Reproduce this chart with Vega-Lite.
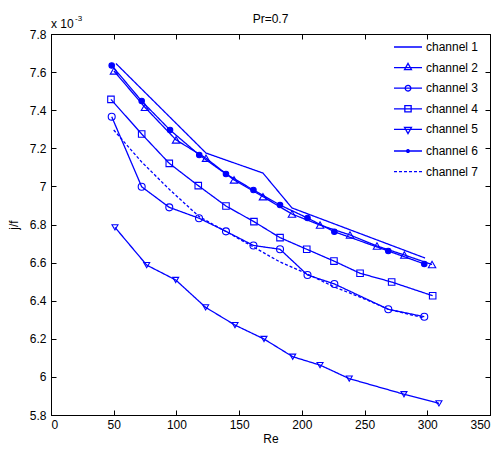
{
  "$schema": "https://vega.github.io/schema/vega-lite/v6.json",
  "autosize": "none",
  "width": 439,
  "height": 381,
  "padding": {"left": 51, "top": 34, "right": 12, "bottom": 35},
  "background": "white",
  "title": {"text": "Pr=0.7", "fontSize": 12, "fontWeight": "normal", "font": "Liberation Sans", "color": "#000000", "offset": -11, "anchor": "middle", "frame": "group"},
  "config": {
    "view": {"stroke": "#000000", "strokeWidth": 1},
    "axis": {"grid": false, "domainColor": "#000000", "tickColor": "#000000", "labelColor": "#000000", "titleColor": "#000000", "labelFont": "Liberation Sans", "titleFont": "Liberation Sans", "labelFontSize": 12, "titleFontSize": 12, "titleFontWeight": "normal", "tickSize": -5, "domainWidth": 1, "tickWidth": 1}
  },
  "data": {"values": [
    {"ch": "channel 1", "Re": 51.8, "jf": 7.645},
    {"ch": "channel 1", "Re": 123.6, "jf": 7.175},
    {"ch": "channel 1", "Re": 169.0, "jf": 7.070},
    {"ch": "channel 1", "Re": 192.1, "jf": 6.887},
    {"ch": "channel 1", "Re": 298.2, "jf": 6.624},

    {"ch": "channel 2", "Re": 50.2, "jf": 7.606},
    {"ch": "channel 2", "Re": 74.9, "jf": 7.415},
    {"ch": "channel 2", "Re": 99.7, "jf": 7.244},
    {"ch": "channel 2", "Re": 123.6, "jf": 7.148},
    {"ch": "channel 2", "Re": 145.9, "jf": 7.034},
    {"ch": "channel 2", "Re": 169.0, "jf": 6.946},
    {"ch": "channel 2", "Re": 192.1, "jf": 6.855},
    {"ch": "channel 2", "Re": 214.5, "jf": 6.797},
    {"ch": "channel 2", "Re": 238.4, "jf": 6.745},
    {"ch": "channel 2", "Re": 259.9, "jf": 6.687},
    {"ch": "channel 2", "Re": 281.7, "jf": 6.640},
    {"ch": "channel 2", "Re": 303.8, "jf": 6.590},

    {"ch": "channel 3", "Re": 48.4, "jf": 7.366},
    {"ch": "channel 3", "Re": 72.3, "jf": 6.998},
    {"ch": "channel 3", "Re": 94.3, "jf": 6.890},
    {"ch": "channel 3", "Re": 118.0, "jf": 6.833},
    {"ch": "channel 3", "Re": 139.5, "jf": 6.764},
    {"ch": "channel 3", "Re": 161.4, "jf": 6.690},
    {"ch": "channel 3", "Re": 182.6, "jf": 6.670},
    {"ch": "channel 3", "Re": 204.5, "jf": 6.535},
    {"ch": "channel 3", "Re": 225.9, "jf": 6.488},
    {"ch": "channel 3", "Re": 268.9, "jf": 6.355},
    {"ch": "channel 3", "Re": 297.6, "jf": 6.316},

    {"ch": "channel 4", "Re": 47.8, "jf": 7.457},
    {"ch": "channel 4", "Re": 72.3, "jf": 7.275},
    {"ch": "channel 4", "Re": 94.3, "jf": 7.121},
    {"ch": "channel 4", "Re": 117.4, "jf": 7.004},
    {"ch": "channel 4", "Re": 139.5, "jf": 6.897},
    {"ch": "channel 4", "Re": 161.8, "jf": 6.815},
    {"ch": "channel 4", "Re": 182.6, "jf": 6.731},
    {"ch": "channel 4", "Re": 203.9, "jf": 6.670},
    {"ch": "channel 4", "Re": 225.6, "jf": 6.608},
    {"ch": "channel 4", "Re": 246.4, "jf": 6.544},
    {"ch": "channel 4", "Re": 271.6, "jf": 6.498},
    {"ch": "channel 4", "Re": 304.3, "jf": 6.426},

    {"ch": "channel 5", "Re": 51.0, "jf": 6.785},
    {"ch": "channel 5", "Re": 76.3, "jf": 6.587},
    {"ch": "channel 5", "Re": 99.4, "jf": 6.509},
    {"ch": "channel 5", "Re": 123.3, "jf": 6.365},
    {"ch": "channel 5", "Re": 146.7, "jf": 6.272},
    {"ch": "channel 5", "Re": 169.8, "jf": 6.199},
    {"ch": "channel 5", "Re": 192.7, "jf": 6.106},
    {"ch": "channel 5", "Re": 214.5, "jf": 6.062},
    {"ch": "channel 5", "Re": 237.8, "jf": 5.991},
    {"ch": "channel 5", "Re": 281.4, "jf": 5.909},
    {"ch": "channel 5", "Re": 309.3, "jf": 5.861},

    {"ch": "channel 6", "Re": 48.4, "jf": 7.635},
    {"ch": "channel 6", "Re": 72.3, "jf": 7.448},
    {"ch": "channel 6", "Re": 94.9, "jf": 7.296},
    {"ch": "channel 6", "Re": 118.2, "jf": 7.165},
    {"ch": "channel 6", "Re": 139.5, "jf": 7.065},
    {"ch": "channel 6", "Re": 161.4, "jf": 6.981},
    {"ch": "channel 6", "Re": 182.6, "jf": 6.902},
    {"ch": "channel 6", "Re": 204.5, "jf": 6.834},
    {"ch": "channel 6", "Re": 225.9, "jf": 6.762},
    {"ch": "channel 6", "Re": 268.9, "jf": 6.661},
    {"ch": "channel 6", "Re": 297.6, "jf": 6.593},

    {"ch": "channel 7", "Re": 50.0, "jf": 7.296},
    {"ch": "channel 7", "Re": 72.3, "jf": 7.128},
    {"ch": "channel 7", "Re": 94.9, "jf": 6.981},
    {"ch": "channel 7", "Re": 118.2, "jf": 6.841},
    {"ch": "channel 7", "Re": 139.5, "jf": 6.763},
    {"ch": "channel 7", "Re": 161.4, "jf": 6.682},
    {"ch": "channel 7", "Re": 182.6, "jf": 6.603},
    {"ch": "channel 7", "Re": 204.5, "jf": 6.540},
    {"ch": "channel 7", "Re": 225.9, "jf": 6.472},
    {"ch": "channel 7", "Re": 246.4, "jf": 6.419},
    {"ch": "channel 7", "Re": 268.9, "jf": 6.355},
    {"ch": "channel 7", "Re": 297.6, "jf": 6.309}
  ]},
  "resolve": {"axis": {"x": "independent", "y": "independent"}},
  "layer": [
    {
      "mark": {"type": "line", "strokeWidth": 1.3},
      "encoding": {
        "x": {"field": "Re", "type": "quantitative", "scale": {"domain": [0, 350], "nice": false, "zero": false},
              "axis": {"orient": "bottom", "values": [0, 50, 100, 150, 200, 250, 300, 350], "title": "Re", "labelPadding": 9, "titlePadding": 3}},
        "y": {"field": "jf", "type": "quantitative", "scale": {"domain": [5.8, 7.8], "nice": false, "zero": false},
              "axis": {"orient": "left", "values": [5.8, 6, 6.2, 6.4, 6.6, 6.8, 7, 7.2, 7.4, 7.6, 7.8], "format": ".2~f", "title": "j/f", "labelPadding": 10, "titlePadding": 9}},
        "color": {"field": "ch", "type": "nominal",
                  "scale": {"domain": ["channel 1", "channel 2", "channel 3", "channel 4", "channel 5", "channel 6", "channel 7"], "range": ["#0000ff", "#0000ff", "#0000ff", "#0000ff", "#0000ff", "#0000ff", "#0000ff"]},
                  "legend": {
                    "orient": "none", "legendX": 330, "legendY": 0, "title": null,
                    "symbolSize": 196, "symbolStrokeWidth": 1.3,
                    "labelFont": "Liberation Sans", "labelFontSize": 12, "labelColor": "#000000",
                    "rowPadding": 6.6, "labelOffset": 10, "symbolOffset": 14, "padding": 5,
                    "encode": {"symbols": {"update": {
                      "shape": {"signal": "datum.value == 'channel 2' ? 'M-2,0H2M0,-0.6L0.5,0.3L-0.5,0.3Z' : datum.value == 'channel 3' ? 'M-2,0H2M0.4,0A0.4,0.4,0,1,1,-0.4,0A0.4,0.4,0,1,1,0.4,0Z' : datum.value == 'channel 4' ? 'M-2,0H2M-0.45,-0.45H0.45V0.45H-0.45Z' : datum.value == 'channel 5' ? 'M-2,0H2M0,0.6L0.5,-0.3L-0.5,-0.3Z' : datum.value == 'channel 6' ? 'M-2,0H2M0.2,0A0.2,0.2,0,1,1,-0.2,0A0.2,0.2,0,1,1,0.2,0Z' : 'M-2,0H2'"},
                      "fill": {"signal": "datum.value == 'channel 6' ? '#0000ff' : 'transparent'"}
                    }}}
                  }},
        "strokeDash": {"field": "ch", "type": "nominal",
                  "scale": {"domain": ["channel 1", "channel 2", "channel 3", "channel 4", "channel 5", "channel 6", "channel 7"], "range": [[1, 0], [1, 0], [1, 0], [1, 0], [1, 0], [1, 0], [3, 2]]}}
      }
    },
    {
      "transform": [{"filter": "datum.ch != 'channel 1' && datum.ch != 'channel 7'"}],
      "mark": {"type": "point", "strokeWidth": 1.1, "color": "#0000ff", "opacity": 1},
      "encoding": {
        "x": {"field": "Re", "type": "quantitative", "axis": {"orient": "top", "values": [0, 50, 100, 150, 200, 250, 300, 350], "labels": false, "title": null}},
        "y": {"field": "jf", "type": "quantitative", "axis": {"orient": "right", "values": [5.8, 6, 6.2, 6.4, 6.6, 6.8, 7, 7.2, 7.4, 7.6, 7.8], "labels": false, "title": null}},
        "shape": {"field": "ch", "type": "nominal", "legend": null,
                  "scale": {"domain": ["channel 2", "channel 3", "channel 4", "channel 5", "channel 6"], "range": ["triangle-up", "circle", "square", "triangle-down", "circle"]}},
        "size": {"field": "ch", "type": "nominal", "legend": null,
                 "scale": {"domain": ["channel 2", "channel 3", "channel 4", "channel 5", "channel 6"], "range": [55, 30, 55, 55, 5]}},
        "fill": {"condition": {"test": "datum.ch == 'channel 6'", "value": "#0000ff"}, "value": "transparent"}
      }
    },
    {
      "data": {"values": [{"t": "x 10"}]},
      "mark": {"type": "text", "align": "left", "baseline": "alphabetic", "font": "Liberation Sans", "fontSize": 12, "dy": -6, "dx": 0, "color": "#000000"},
      "encoding": {"x": {"datum": 0, "axis": null}, "y": {"datum": 7.8, "axis": null}, "text": {"field": "t"}}
    },
    {
      "data": {"values": [{"t": "-3"}]},
      "mark": {"type": "text", "align": "left", "baseline": "alphabetic", "font": "Liberation Sans", "fontSize": 8, "dy": -13, "dx": 24, "color": "#000000"},
      "encoding": {"x": {"datum": 0, "axis": null}, "y": {"datum": 7.8, "axis": null}, "text": {"field": "t"}}
    }
  ]
}
